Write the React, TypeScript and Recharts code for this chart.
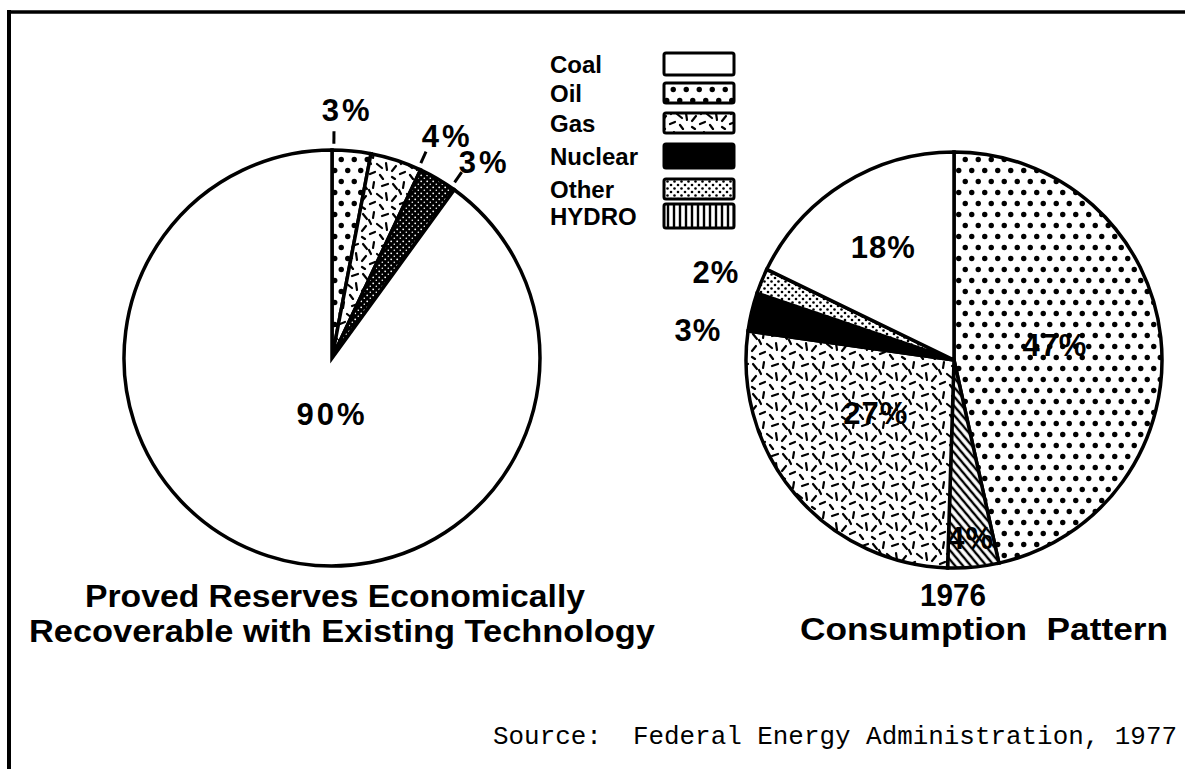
import React from 'react';
import { PieChart, Pie, Cell, Legend } from 'recharts';

// ---- data ----
const legendCategories = ['Coal', 'Oil', 'Gas', 'Nuclear', 'Other', 'HYDRO'];
const reserveSources = ['Oil', 'Gas', 'Other', 'Coal'];
const reserveShares = [3, 4, 3, 90];
const consumptionSources = ['Oil', 'HYDRO', 'Gas', 'Nuclear', 'Other', 'Coal'];
const consumptionShares = [47, 4, 27, 3, 2, 18];
const reserveTitle = ['Proved Reserves Economically', 'Recoverable with Existing Technology'];
const consumptionTitle = ['1976', 'Consumption  Pattern'];
const sourceNote = 'Source:  Federal Energy Administration, 1977';

const reserveData = reserveSources.map((name, i) => ({ name, value: reserveShares[i] }));
const consumptionData = consumptionSources.map((name, i) => ({ name, value: consumptionShares[i] }));

// ---- styles ----
const SANS = '"Liberation Sans", Arial, Helvetica, sans-serif';
const fills: Record<string, string> = {
  Coal: '#ffffff',
  Oil: 'url(#pOil)',
  Gas: 'url(#pGas)',
  Nuclear: '#000000',
  Other: 'url(#pOther)',
  HYDRO: 'url(#pHydro)',
};
const legendFills: Record<string, string> = { ...fills, HYDRO: 'url(#pHydroV)' };
const reserveFill = (name: string) => (name === 'Other' ? 'url(#pDark)' : fills[name]);

// label layout (radius as fraction of outer radius, clockwise angle nudge in degrees)
const reserveLabelRadius = [1.19, 1.2, 1.19, 0.27];
const reserveLabelNudge = [-1.9, 9.5, 7.3, -18];
const consumptionLabelRadius = [0.49, 0.86, 0.455, 1.24, 1.22, 0.64];
const consumptionLabelNudge = [-1.8, 0, 5.9, -6.7, -2.1, 0];

const RAD = Math.PI / 180;

function makeLabel(radius: number[], nudge: number[], leaders: boolean, spaced: boolean) {
  return (props: any) => {
    const { cx, cy, midAngle, outerRadius, index, value } = props;
    const ang = midAngle - nudge[index];
    const r = outerRadius * radius[index];
    const x = cx + r * Math.cos(-ang * RAD);
    const y = cy + r * Math.sin(-ang * RAD);
    const outside = radius[index] > 1;
    let leader = null;
    if (leaders && outside) {
      const a2 = ang + 3;
      const r1 = outerRadius * 1.03;
      const r2 = outerRadius * 1.09;
      leader = (
        <line
          x1={cx + r1 * Math.cos(-a2 * RAD)}
          y1={cy + r1 * Math.sin(-a2 * RAD)}
          x2={cx + r2 * Math.cos(-a2 * RAD)}
          y2={cy + r2 * Math.sin(-a2 * RAD)}
          stroke="#000"
          strokeWidth={3}
        />
      );
    }
    return (
      <g key={`lbl-${index}`}>
        {leader}
        <text
          x={x}
          y={y}
          textAnchor="middle"
          dominantBaseline="central"
          fontFamily={SANS}
          fontWeight="bold"
          fontSize={31}
          letterSpacing={spaced ? 3 : 1}
          fill="#000"
        >
          {`${value}%`}
        </text>
      </g>
    );
  };
}

const gasDashes = [
  [3, 4, 7, 9], [14, 2, 13, 8], [22, 6, 28, 4], [6, 16, 2, 21], [17, 14, 22, 18],
  [26, 13, 27, 20], [10, 24, 15, 22], [20, 25, 23, 29], [2, 27, 5, 29], [9, 10, 11, 14],
];

const rowY = [24, 53, 83, 116, 149, 176];
const swatchH = [22, 20, 20, 24, 20, 24];

const renderLegend = () => (
  <svg width={210} height={200} style={{ overflow: 'visible', display: 'block' }}>
    {legendCategories.map((c, i) => (
      <g key={c}>
        <text
          x={10}
          y={rowY[i]}
          dominantBaseline="central"
          fontFamily={SANS}
          fontWeight="bold"
          fontSize={24}
          fill="#000"
        >
          {c}
        </text>
        <rect
          x={124}
          y={rowY[i] - swatchH[i] / 2}
          width={70}
          height={swatchH[i]}
          rx={2}
          fill={legendFills[c]}
          stroke="#000"
          strokeWidth={3}
        />
      </g>
    ))}
  </svg>
);

export default function App() {
  return (
    <div style={{ position: 'absolute', left: 0, top: 0, background: '#fff' }}>
      <PieChart width={1185} height={769} margin={{ top: 0, right: 0, bottom: 0, left: 0 }}>
        <defs>
          <pattern id="pOil" width={13} height={22} patternUnits="userSpaceOnUse">
            <rect width={13} height={22} fill="#fff" />
            <circle cx={3.25} cy={5.5} r={2.7} fill="#000" />
            <circle cx={9.75} cy={16.5} r={2.7} fill="#000" />
          </pattern>
          <pattern id="pGas" width={30} height={30} patternUnits="userSpaceOnUse">
            <rect width={30} height={30} fill="#fff" />
            {gasDashes.map((d, i) => (
              <line key={i} x1={d[0]} y1={d[1]} x2={d[2]} y2={d[3]} stroke="#000" strokeWidth={2.2} strokeLinecap="round" />
            ))}
          </pattern>
          <pattern id="pOther" width={7} height={7} patternUnits="userSpaceOnUse">
            <rect width={7} height={7} fill="#fff" />
            <circle cx={1.5} cy={1.5} r={1.3} fill="#000" />
            <circle cx={5} cy={5} r={1.3} fill="#000" />
          </pattern>
          <pattern id="pDark" width={6} height={6} patternUnits="userSpaceOnUse">
            <rect width={6} height={6} fill="#000" />
            <circle cx={1.2} cy={1.3} r={0.9} fill="#fff" />
            <circle cx={4.3} cy={4.2} r={0.8} fill="#fff" />
          </pattern>
          <pattern id="pHydro" width={6} height={6} patternUnits="userSpaceOnUse" patternTransform="rotate(-40)">
            <rect width={6} height={6} fill="#fff" />
            <line x1={2} y1={0} x2={2} y2={6} stroke="#000" strokeWidth={2.4} />
          </pattern>
          <pattern id="pHydroV" width={6} height={6} patternUnits="userSpaceOnUse">
            <rect width={6} height={6} fill="#fff" />
            <line x1={2} y1={0} x2={2} y2={6} stroke="#000" strokeWidth={2.4} />
          </pattern>
        </defs>

        <line x1={8} y1={12} x2={1185} y2={12} stroke="#000" strokeWidth={3.5} />
        <line x1={9} y1={10} x2={9} y2={769} stroke="#000" strokeWidth={4} />

        <Pie
          data={reserveData}
          dataKey="value"
          nameKey="name"
          cx={332}
          cy={358}
          outerRadius={208}
          startAngle={90}
          endAngle={-270}
          stroke="#000"
          strokeWidth={3.5}
          isAnimationActive={false}
          labelLine={false}
          label={makeLabel(reserveLabelRadius, reserveLabelNudge, true, true)}
        >
          {reserveData.map((d) => (
            <Cell key={d.name} fill={reserveFill(d.name)} />
          ))}
        </Pie>

        <Pie
          data={consumptionData}
          dataKey="value"
          nameKey="name"
          cx={954}
          cy={360}
          outerRadius={208}
          startAngle={90}
          endAngle={-270}
          stroke="#000"
          strokeWidth={3.5}
          isAnimationActive={false}
          labelLine={false}
          label={makeLabel(consumptionLabelRadius, consumptionLabelNudge, false, false)}
        >
          {consumptionData.map((d) => (
            <Cell key={d.name} fill={fills[d.name]} />
          ))}
        </Pie>

        <Legend
          content={renderLegend}
          wrapperStyle={{ left: 540, top: 40, width: 210, height: 200, bottom: 'auto' }}
        />

        <text x={335} y={607} textAnchor="middle" fontFamily={SANS} fontWeight="bold" fontSize={31}
          textLength={500} lengthAdjust="spacingAndGlyphs" fill="#000">{reserveTitle[0]}</text>
        <text x={342} y={642} textAnchor="middle" fontFamily={SANS} fontWeight="bold" fontSize={31}
          textLength={626} lengthAdjust="spacingAndGlyphs" fill="#000">{reserveTitle[1]}</text>
        <text x={953} y={606} textAnchor="middle" fontFamily={SANS} fontWeight="bold" fontSize={31}
          textLength={66} lengthAdjust="spacingAndGlyphs" fill="#000">{consumptionTitle[0]}</text>
        <text x={984} y={640} textAnchor="middle" fontFamily={SANS} fontWeight="bold" fontSize={31}
          textLength={368} lengthAdjust="spacingAndGlyphs" fill="#000" style={{ whiteSpace: 'pre' }}>{consumptionTitle[1]}</text>
        <text x={493} y={744} fontFamily='"Liberation Mono", "DejaVu Sans Mono", monospace' fontSize={26}
          textLength={684} lengthAdjust="spacingAndGlyphs" fill="#000" style={{ whiteSpace: 'pre' }}>{sourceNote}</text>
      </PieChart>
    </div>
  );
}
